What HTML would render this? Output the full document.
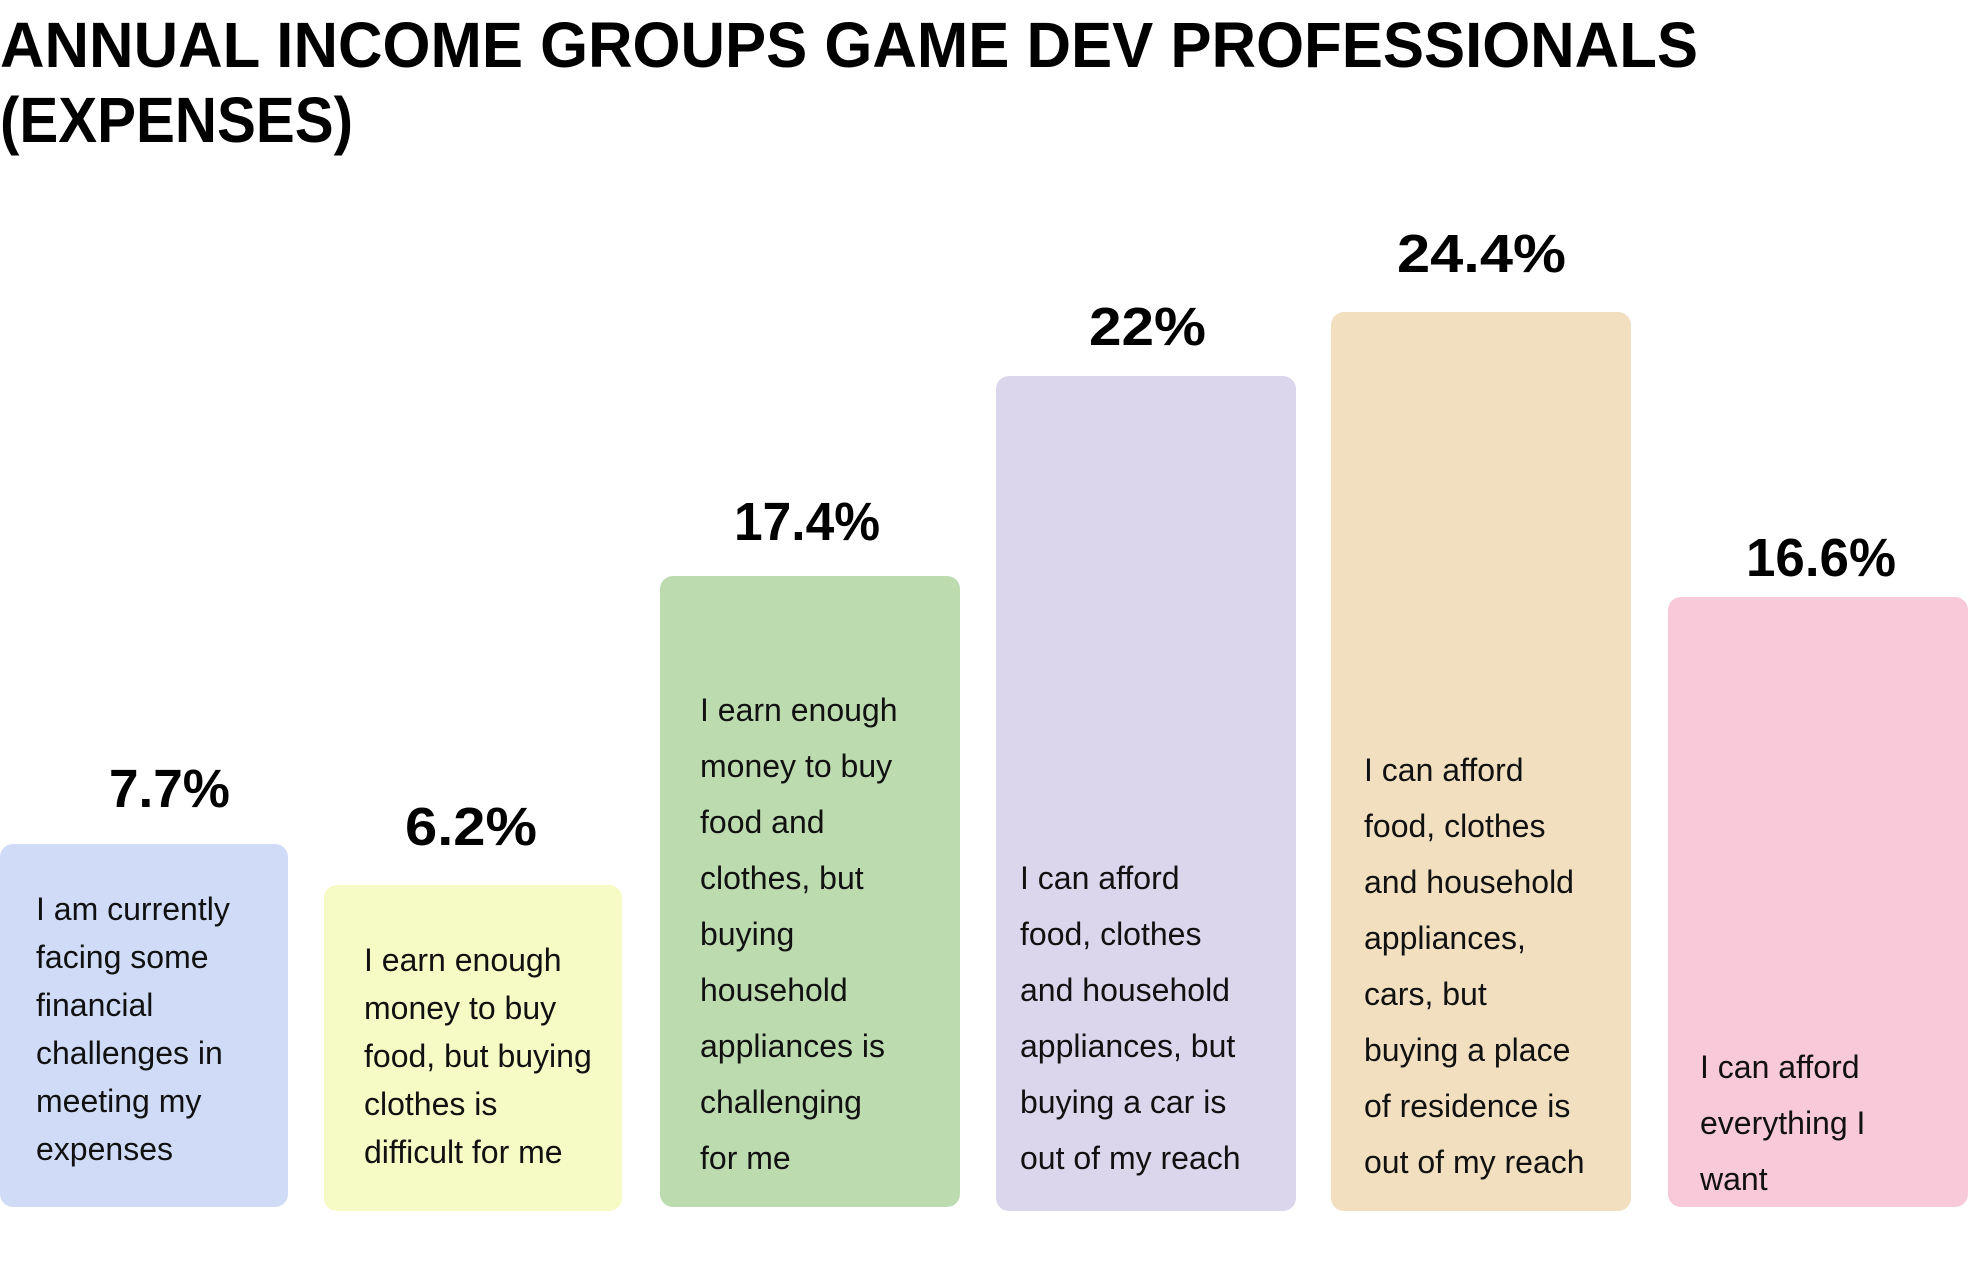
<!DOCTYPE html>
<html><head><meta charset="utf-8"><style>
html,body{margin:0;padding:0;background:#fff;}
svg{display:block;}
.t{font-family:"Liberation Sans",sans-serif;font-weight:bold;fill:#000;}
.b{font-family:"Liberation Sans",sans-serif;font-size:32px;fill:#111;}
</style></head><body>
<svg width="1968" height="1264" viewBox="0 0 1968 1264" xmlns="http://www.w3.org/2000/svg">
<text class="t" x="0" y="67" font-size="64" textLength="1698" lengthAdjust="spacingAndGlyphs">ANNUAL INCOME GROUPS GAME DEV PROFESSIONALS</text>
<text class="t" x="0" y="142" font-size="64" textLength="353" lengthAdjust="spacingAndGlyphs">(EXPENSES)</text>

<rect x="0" y="844" width="288" height="363" rx="13" fill="#d0dbf7"/>
<rect x="324" y="885" width="298" height="326" rx="13" fill="#f6fac5"/>
<rect x="660" y="576" width="300" height="631" rx="13" fill="#bcdcb0"/>
<rect x="996" y="376" width="300" height="835" rx="13" fill="#dcd6ec"/>
<rect x="1331" y="312" width="300" height="899" rx="13" fill="#f1dfc0"/>
<rect x="1668" y="597" width="300" height="610" rx="13" fill="#f8c9d8"/>

<text class="t" x="109" y="807" font-size="54" textLength="121" lengthAdjust="spacingAndGlyphs">7.7%</text>
<text class="t" x="405" y="845" font-size="54" textLength="132" lengthAdjust="spacingAndGlyphs">6.2%</text>
<text class="t" x="734" y="540" font-size="54" textLength="146" lengthAdjust="spacingAndGlyphs">17.4%</text>
<text class="t" x="1089" y="345" font-size="54" textLength="117" lengthAdjust="spacingAndGlyphs">22%</text>
<text class="t" x="1397" y="272" font-size="54" textLength="169" lengthAdjust="spacingAndGlyphs">24.4%</text>
<text class="t" x="1746" y="576" font-size="54" textLength="150" lengthAdjust="spacingAndGlyphs">16.6%</text>

<g class="b">
<text x="36" y="920">I am currently</text>
<text x="36" y="968">facing some</text>
<text x="36" y="1016">financial</text>
<text x="36" y="1064">challenges in</text>
<text x="36" y="1112">meeting my</text>
<text x="36" y="1160">expenses</text>

<text x="364" y="971">I earn enough</text>
<text x="364" y="1019">money to buy</text>
<text x="364" y="1067">food, but buying</text>
<text x="364" y="1115">clothes is</text>
<text x="364" y="1163">difficult for me</text>

<text x="700" y="721">I earn enough</text>
<text x="700" y="777">money to buy</text>
<text x="700" y="833">food and</text>
<text x="700" y="889">clothes, but</text>
<text x="700" y="945">buying</text>
<text x="700" y="1001">household</text>
<text x="700" y="1057">appliances is</text>
<text x="700" y="1113">challenging</text>
<text x="700" y="1169">for me</text>

<text x="1020" y="889">I can afford</text>
<text x="1020" y="945">food, clothes</text>
<text x="1020" y="1001">and household</text>
<text x="1020" y="1057">appliances, but</text>
<text x="1020" y="1113">buying a car is</text>
<text x="1020" y="1169">out of my reach</text>

<text x="1364" y="781">I can afford</text>
<text x="1364" y="837">food, clothes</text>
<text x="1364" y="893">and household</text>
<text x="1364" y="949">appliances,</text>
<text x="1364" y="1005">cars, but</text>
<text x="1364" y="1061">buying a place</text>
<text x="1364" y="1117">of residence is</text>
<text x="1364" y="1173">out of my reach</text>

<text x="1700" y="1078">I can afford</text>
<text x="1700" y="1134">everything I</text>
<text x="1700" y="1190">want</text>
</g>
</svg>
</body></html>
